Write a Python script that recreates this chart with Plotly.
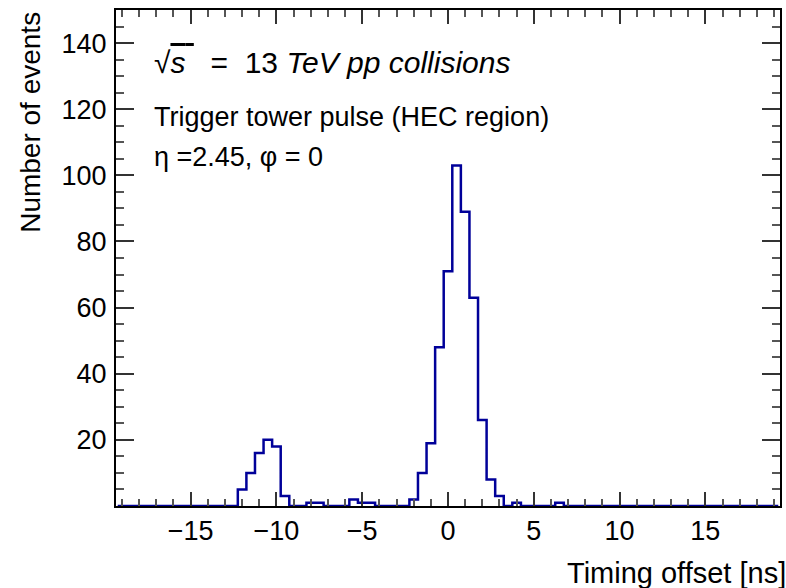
import numpy as np
import plotly.graph_objects as go

# Histogram definition (bins of 0.5 ns)
hist_low = -19.25
bin_width = 0.5
n_bins = 77

# Non-empty bins: left edge -> number of events
bin_left_edges = [-12.25, -11.75, -11.25, -10.75, -10.25, -9.75, -8.25, -7.75,
                  -5.75, -5.25, -4.75, -2.25, -1.75, -1.25, -0.75, -0.25,
                  0.25, 0.75, 1.25, 1.75, 2.25, 2.75, 3.75, 6.25]
bin_counts = [5, 10, 16, 20, 18, 3, 1, 1,
              2, 1, 1, 2, 10, 19, 48, 71,
              103, 89, 63, 26, 8, 3, 1, 1]

y_tick_vals = [20, 40, 60, 80, 100, 120, 140]
x_tick_vals = [-15, -10, -5, 0, 5, 10, 15]
x_tick_text = ["\u221215", "\u221210", "\u22125", "0", "5", "10", "15"]

edges = hist_low + bin_width * np.arange(n_bins + 1)
counts = np.zeros(n_bins)
for e, c in zip(bin_left_edges, bin_counts):
    counts[int(round((e - hist_low) / bin_width))] = c
y_step = np.append(counts, counts[-1])

FONT = "Liberation Sans, Arial, Helvetica, sans-serif"
LINE = "#000099"
XR = [-19.35, 19.35]
YR = [0, 150]

fig = go.Figure()
fig.add_trace(go.Scatter(x=edges, y=y_step, mode="lines", line_shape="hv",
                         line=dict(color=LINE, width=2.5), showlegend=False,
                         hoverinfo="skip"))
fig.add_trace(go.Scatter(x=[edges[0], edges[0]], y=[0, counts[0]], mode="lines",
                         line=dict(color=LINE, width=2.5), showlegend=False))
fig.add_trace(go.Scatter(x=[edges[-1], edges[-1]], y=[counts[-1], 0], mode="lines",
                         line=dict(color=LINE, width=2.5), showlegend=False))
# invisible trace to anchor the mirrored tick axes (top / right)
fig.add_trace(go.Scatter(x=[0], y=[0], xaxis="x2", yaxis="y2", mode="markers",
                         marker=dict(opacity=0), showlegend=False, hoverinfo="skip"))

tickfont = dict(family=FONT, size=27, color="black")

fig.update_layout(
    xaxis=dict(range=XR, tickvals=x_tick_vals, ticktext=x_tick_text,
               showgrid=False, zeroline=False, showline=True, linecolor="black",
               linewidth=2, mirror=True, ticks="inside", ticklen=14, tickwidth=2,
               tickcolor="#333", tickfont=tickfont,
               minor=dict(dtick=1, tick0=0, ticks="inside", ticklen=7, tickwidth=1.5,
                          tickcolor="#555")),
    yaxis=dict(range=YR, tickvals=y_tick_vals,
               showgrid=False, zeroline=False, showline=True, linecolor="black",
               linewidth=2, mirror=True, ticks="inside", ticklen=18, tickwidth=2,
               tickcolor="#333", tickfont=tickfont, ticklabelstandoff=2,
               minor=dict(dtick=5, tick0=0, ticks="inside", ticklen=8, tickwidth=1.5,
                          tickcolor="#555")),
    xaxis2=dict(range=XR, overlaying="x", side="top", anchor="y2", tickvals=x_tick_vals,
                showticklabels=False, showgrid=False, zeroline=False, showline=False,
                ticks="inside", ticklen=14, tickwidth=2, tickcolor="#333",
                minor=dict(dtick=1, tick0=0, ticks="inside", ticklen=7, tickwidth=1.5,
                           tickcolor="#555")),
    yaxis2=dict(range=YR, overlaying="y", side="right", anchor="x2", tickvals=y_tick_vals,
                showticklabels=False, showgrid=False, zeroline=False, showline=False,
                ticks="inside", ticklen=18, tickwidth=2, tickcolor="#333",
                minor=dict(dtick=5, tick0=0, ticks="inside", ticklen=8, tickwidth=1.5,
                           tickcolor="#555")),
)

annotations = [
    dict(text="\u221a<span style='text-decoration:overline'><i>s</i> </span>  =  13 <i>TeV pp collisions</i>",
         x=0.054, y=0.895, xref="paper", yref="paper", xanchor="left", yanchor="middle",
         showarrow=False, font=dict(family=FONT, size=30, color="black")),
    dict(text="Trigger tower pulse (HEC region)",
         x=0.054, y=0.784, xref="paper", yref="paper", xanchor="left", yanchor="middle",
         showarrow=False, font=dict(family=FONT, size=27, color="black")),
    dict(text="\u03b7 =2.45, \u03c6 = 0",
         x=0.054, y=0.704, xref="paper", yref="paper", xanchor="left", yanchor="middle",
         showarrow=False, font=dict(family=FONT, size=27, color="black")),
    dict(text="Number of events", textangle=-90,
         x=-0.129, y=1.0, xref="paper", yref="paper", xanchor="center", yanchor="top",
         showarrow=False, font=dict(family=FONT, size=28, color="black")),
    dict(text="Timing offset [ns]",
         x=1.012, y=-0.135, xref="paper", yref="paper", xanchor="right", yanchor="middle",
         showarrow=False, font=dict(family=FONT, size=29, color="black")),
]

fig.update_layout(width=786, height=588, margin=dict(l=116, r=4, t=10, b=82),
                  plot_bgcolor="white", paper_bgcolor="white",
                  annotations=annotations, showlegend=False)

fig.write_html("out.html", config={"displayModeBar": False},
               post_script="document.body.style.margin='0px';")
